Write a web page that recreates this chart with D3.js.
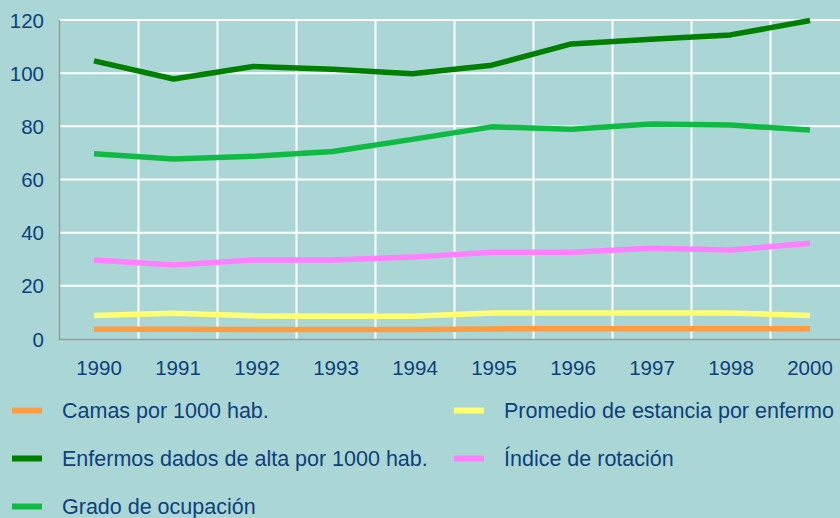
<!DOCTYPE html>
<html>
<head>
<meta charset="utf-8">
<script src="https://cdn.jsdelivr.net/npm/d3@7"></script>
<style>
    body { margin: 0; background: #aad7d6; }
    svg { display: block; font-family: "Liberation Sans", Arial, sans-serif; }
    .tick-label { fill: #0d3f7c; font-size: 20.5px; }
    .legend-label { fill: #0d3f7c; font-size: 21.5px; }
</style>
</head>
<body>
<svg></svg>
<script>
// data
var years = ["1990", "1991", "1992", "1993", "1994", "1995", "1996", "1997", "1998", "2000"]
var yTicks = [0, 20, 40, 60, 80, 100, 120]

var seriesNames = [
    "Camas por 1000 hab.",
    "Promedio de estancia por enfermo",
    "Enfermos dados de alta por 1000 hab.",
    "Índice de rotación",
    "Grado de ocupación"
]
var seriesColors = ["#ff9c40", "#ffff70", "#007f00", "#ff80ff", "#10bb44"]

var camas = [3.7, 3.7, 3.6, 3.6, 3.6, 3.8, 3.9, 3.9, 3.9, 3.9]
var promedio = [8.8, 9.7, 8.7, 8.6, 8.6, 9.8, 9.8, 9.8, 9.8, 8.8]
var enfermos = [104.6, 97.8, 102.5, 101.5, 99.8, 103, 111, 112.8, 114.4, 119.8]
var indice = [29.7, 27.8, 29.7, 29.7, 30.8, 32.6, 32.6, 34.1, 33.5, 36]
var grado = [69.7, 67.7, 68.7, 70.5, 75.1, 79.8, 78.9, 80.9, 80.5, 78.6]

var seriesValues = [camas, promedio, enfermos, indice, grado]

// order the lines are drawn in (back to front)
var drawOrder = [0, 1, 3, 4, 2]

var screen = { width: 840, height: 518 }
var margins = { left: 59.5, top: 20, bottom: 339 }

var svg = d3.select("svg")
    .attr("width", screen.width)
    .attr("height", screen.height)

svg.append("rect")
    .attr("width", screen.width)
    .attr("height", screen.height)
    .attr("fill", "#aad7d6")

// bands for grid and labels, points for the lines
var bandScale = d3.scaleBand()
    .domain(years)
    .range([margins.left, margins.left + 790])

var xScale = d3.scalePoint()
    .domain(years)
    .range([94, 810])

var yScale = d3.scaleLinear()
    .domain([0, 120])
    .range([margins.bottom, margins.top])

var grid = svg.append("g")
    .attr("stroke", "white")
    .attr("stroke-width", 2)

grid.selectAll("line.h")
    .data(yTicks.slice(1))
    .enter()
    .append("line")
    .classed("h", true)
    .attr("x1", margins.left)
    .attr("x2", screen.width)
    .attr("y1", function (d) { return yScale(d) })
    .attr("y2", function (d) { return yScale(d) })

grid.selectAll("line.v")
    .data(years)
    .enter()
    .append("line")
    .classed("v", true)
    .attr("x1", function (d) { return bandScale(d) + bandScale.bandwidth() })
    .attr("x2", function (d) { return bandScale(d) + bandScale.bandwidth() })
    .attr("y1", margins.top)
    .attr("y2", margins.bottom)

// axis lines
svg.append("line")
    .attr("x1", margins.left)
    .attr("x2", margins.left)
    .attr("y1", margins.top)
    .attr("y2", margins.bottom)
    .attr("stroke", "#9a9a9a")
    .attr("stroke-width", 1.5)

svg.append("line")
    .attr("x1", margins.left - 1)
    .attr("x2", screen.width)
    .attr("y1", margins.bottom + 0.5)
    .attr("y2", margins.bottom + 0.5)
    .attr("stroke", "#9a9a9a")
    .attr("stroke-width", 1.5)

// tick labels
svg.selectAll("text.ylab")
    .data(yTicks)
    .enter()
    .append("text")
    .classed("tick-label", true)
    .attr("text-anchor", "end")
    .attr("x", 44)
    .attr("y", function (d) { return yScale(d) + 7.5 })
    .text(function (d) { return d })

svg.selectAll("text.xlab")
    .data(years)
    .enter()
    .append("text")
    .classed("tick-label", true)
    .attr("text-anchor", "middle")
    .attr("x", function (d) { return bandScale(d) + bandScale.bandwidth() / 2 })
    .attr("y", 375)
    .text(function (d) { return d })

// lines
var lineGenerator = d3.line()
    .x(function (d, i) { return xScale(years[i]) })
    .y(function (d) { return yScale(d) })

svg.append("g")
    .attr("fill", "none")
    .attr("stroke-width", 5.5)
    .attr("stroke-linejoin", "round")
    .selectAll("path")
    .data(drawOrder)
    .enter()
    .append("path")
    .attr("stroke", function (i) { return seriesColors[i] })
    .attr("d", function (i) { return lineGenerator(seriesValues[i]) })

// legend
var legendPos = [
    { x: 12, y: 410.5 },
    { x: 454, y: 410.5 },
    { x: 12, y: 458.5 },
    { x: 454, y: 458.5 },
    { x: 12, y: 506.5 }
]

var legend = svg.append("g")
    .selectAll("g")
    .data(seriesNames)
    .enter()
    .append("g")
    .attr("transform", function (d, i) {
        return "translate(" + legendPos[i].x + "," + legendPos[i].y + ")"
    })

legend.append("rect")
    .attr("x", 0)
    .attr("y", -3)
    .attr("width", 30)
    .attr("height", 6)
    .attr("fill", function (d, i) { return seriesColors[i] })

legend.append("text")
    .classed("legend-label", true)
    .attr("x", 50)
    .attr("y", 7.5)
    .text(function (d) { return d })
</script>
</body>
</html>
